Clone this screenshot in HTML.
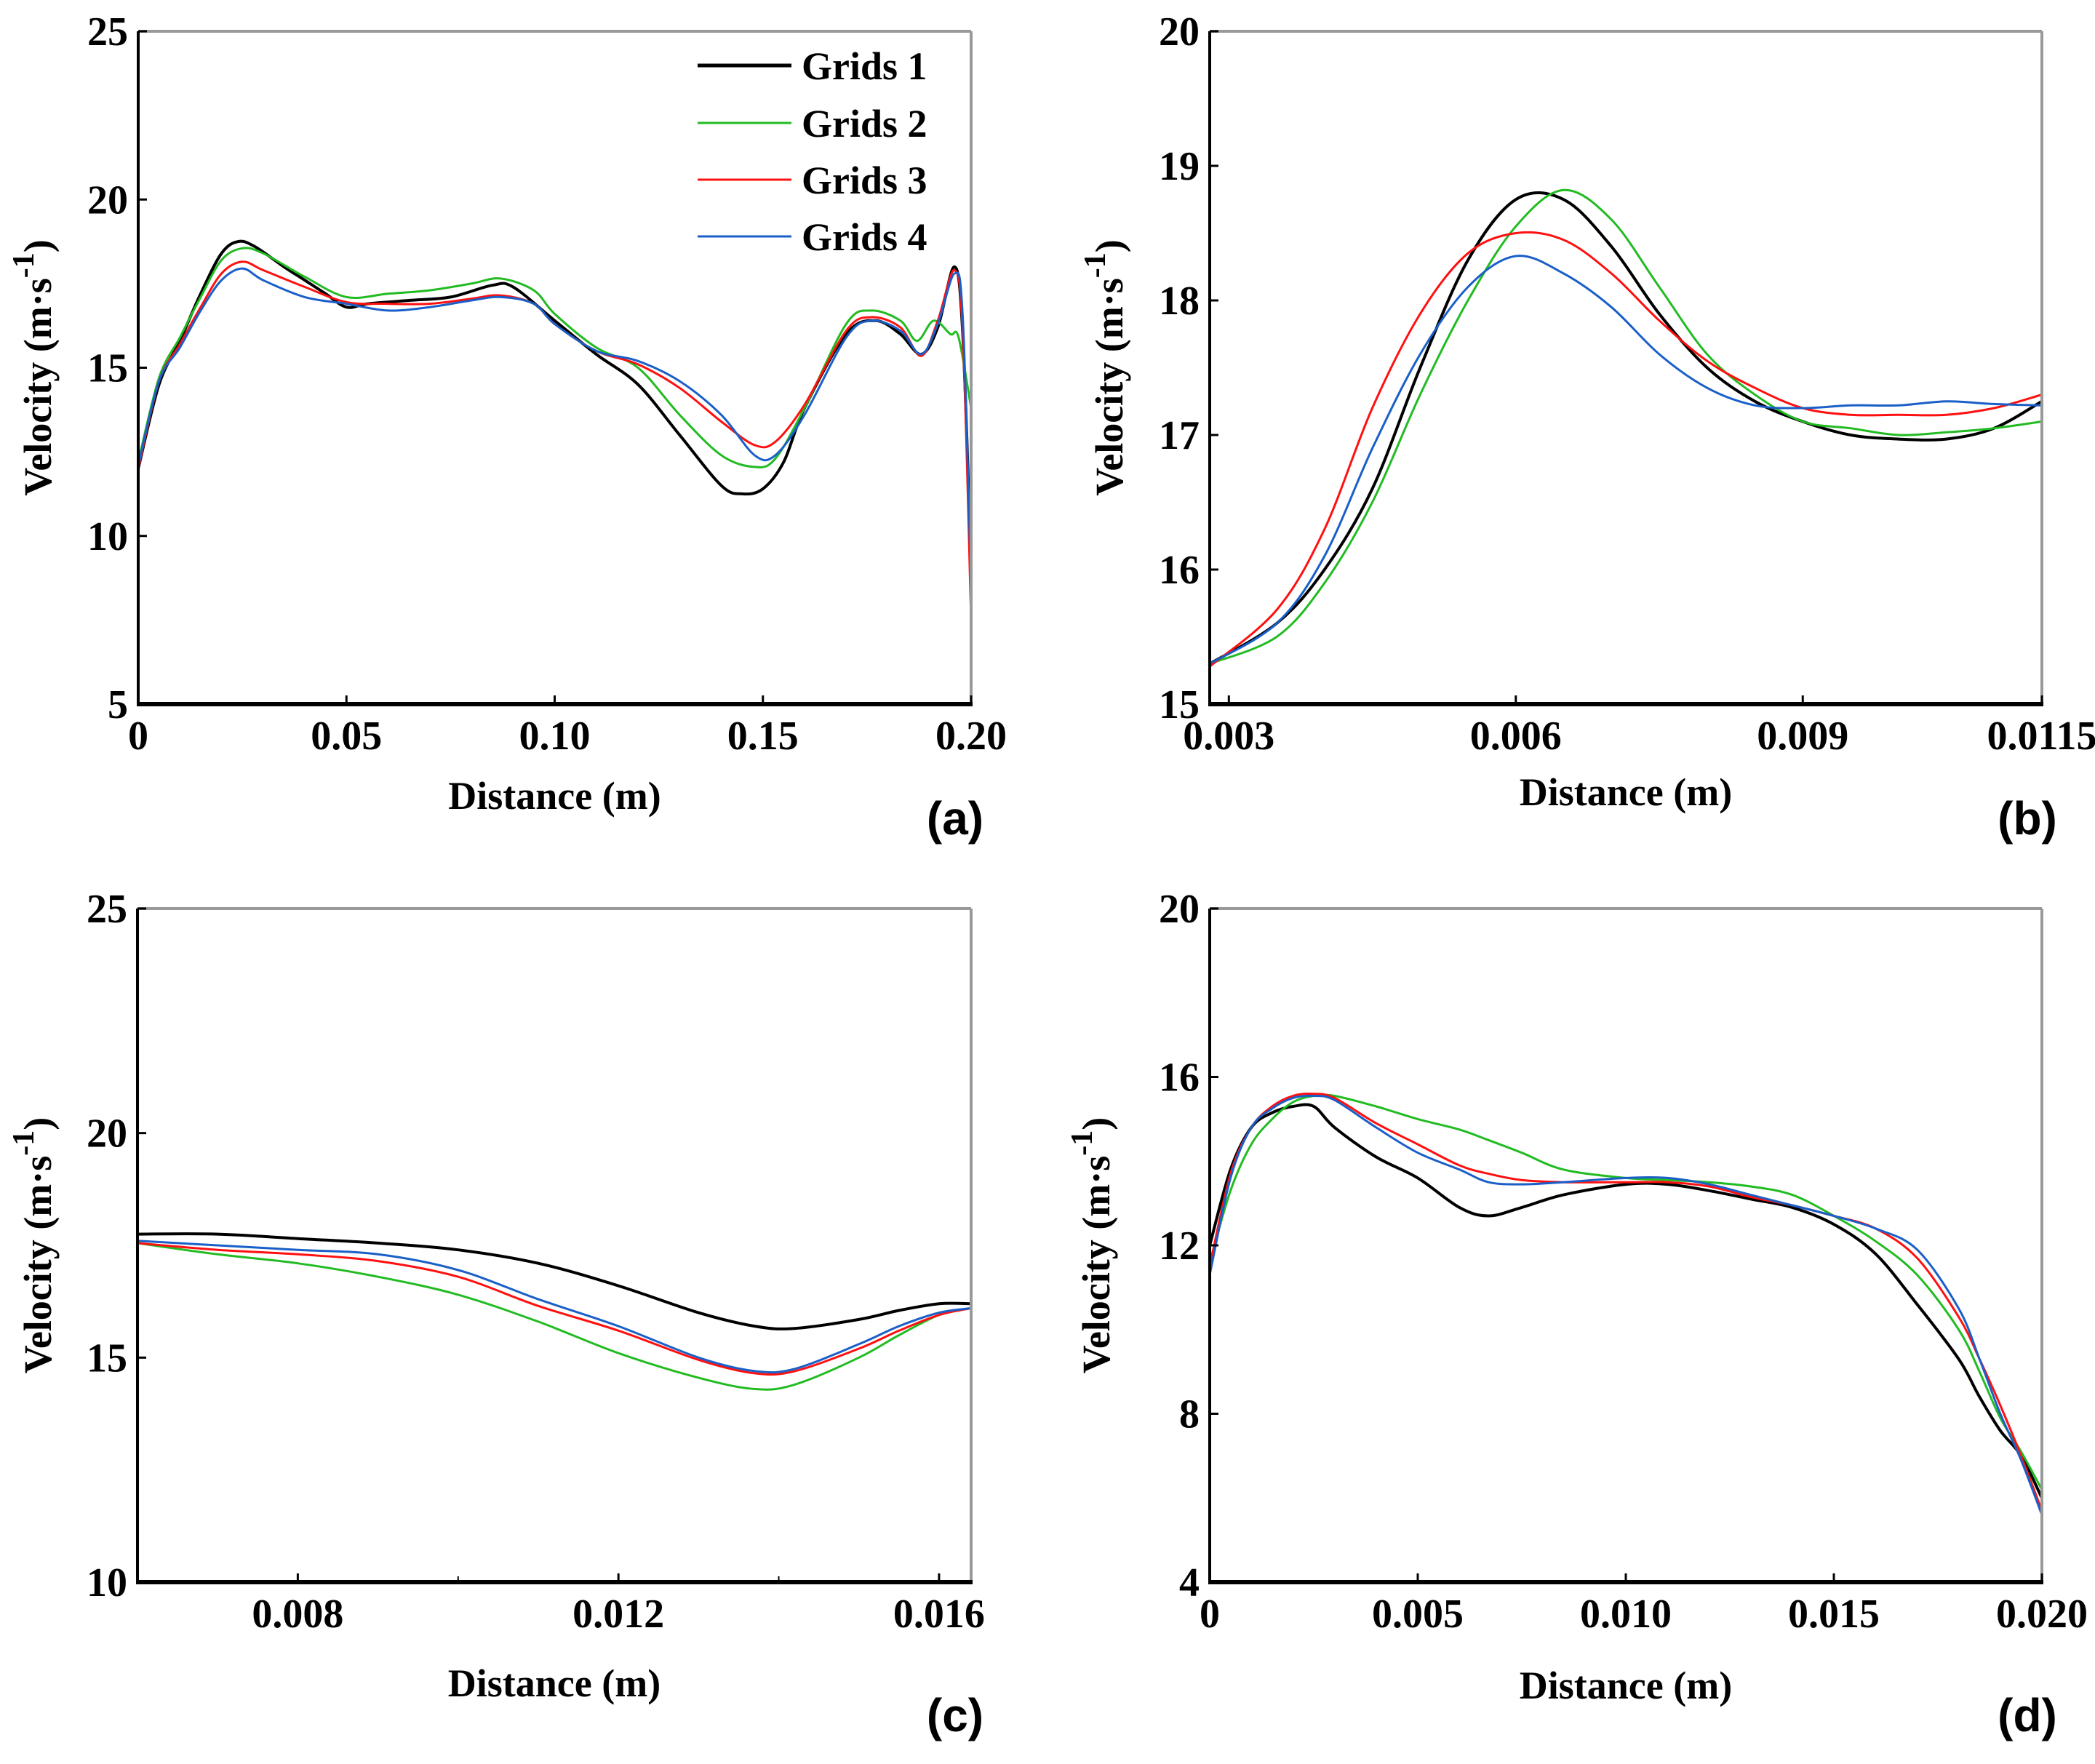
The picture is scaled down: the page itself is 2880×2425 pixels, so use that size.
<!DOCTYPE html>
<html><head><meta charset="utf-8">
<style>
html,body{margin:0;padding:0;background:#fff;}
svg{display:block;}
text{font-family:"Liberation Serif",serif;font-weight:bold;fill:#000;}
.pl{font-family:"Liberation Sans",sans-serif;font-weight:bold;}
</style></head>
<body>
<svg id="fig" width="2880" height="2425" viewBox="0 0 2880 2425" xmlns="http://www.w3.org/2000/svg"></svg>
<script>
const seriesNames=["Grids 1","Grids 2","Grids 3","Grids 4"];
const seriesColors=["#000000","#22bb22","#ff1010","#1a5fc8"];

// Panel a data
const aX1=[0,0.005,0.01,0.015,0.02,0.024,0.028,0.035,0.04,0.045,0.05,0.055,0.065,0.075,0.085,0.09,0.1,0.11,0.12,0.13,0.14,0.145,0.15,0.155,0.16,0.17,0.177,0.183,0.188,0.192,0.196,0.198,0.2];
const aY1=[12.0,14.5,15.8,17.2,18.4,18.75,18.6,18.0,17.6,17.2,16.8,16.9,17.0,17.1,17.45,17.4,16.4,15.4,14.5,13.0,11.5,11.25,11.4,12.2,13.8,16.0,16.4,16.0,15.4,16.2,18.0,16.0,9.0];
const aX2=[0,0.005,0.01,0.015,0.02,0.025,0.03,0.04,0.05,0.06,0.07,0.08,0.087,0.095,0.1,0.11,0.12,0.13,0.14,0.148,0.153,0.16,0.17,0.176,0.183,0.187,0.191,0.195,0.197,0.2];
const aY2=[12.2,14.7,15.9,17.1,18.2,18.55,18.4,17.7,17.1,17.2,17.3,17.5,17.65,17.3,16.6,15.6,15.0,13.6,12.4,12.05,12.3,13.8,16.3,16.7,16.4,15.8,16.4,16.0,15.9,13.8];
const aX3=[0,0.005,0.01,0.015,0.02,0.025,0.03,0.04,0.05,0.06,0.07,0.08,0.087,0.095,0.1,0.11,0.12,0.13,0.14,0.148,0.153,0.16,0.17,0.176,0.183,0.188,0.192,0.196,0.198,0.2];
const aY3=[12.0,14.6,15.7,16.8,17.8,18.15,17.9,17.4,16.95,16.9,16.9,17.05,17.15,16.9,16.3,15.5,15.1,14.4,13.4,12.7,12.8,13.9,16.1,16.5,16.2,15.35,16.4,17.9,16.0,7.5];
const aX4=[0,0.005,0.01,0.015,0.02,0.025,0.03,0.04,0.05,0.06,0.07,0.08,0.087,0.095,0.1,0.11,0.12,0.13,0.14,0.148,0.153,0.16,0.17,0.176,0.183,0.188,0.192,0.196,0.198,0.2];
const aY4=[12.1,14.6,15.6,16.7,17.6,17.95,17.6,17.1,16.9,16.7,16.8,17.0,17.1,16.9,16.3,15.5,15.2,14.6,13.6,12.4,12.4,13.6,15.9,16.4,16.1,15.4,16.3,17.8,16.5,8.5];

// Panel b data
const bX=[0.0028,0.0035,0.004,0.0045,0.005,0.0055,0.006,0.0065,0.007,0.0075,0.008,0.0085,0.009,0.0095,0.010,0.0105,0.011,0.0115];
const bY1=[15.3,15.6,16.0,16.6,17.5,18.3,18.75,18.75,18.4,17.9,17.5,17.25,17.1,17.0,16.97,16.97,17.05,17.25];
const bY2=[15.3,15.5,15.9,16.5,17.3,18.0,18.55,18.82,18.6,18.1,17.6,17.3,17.1,17.05,17.0,17.02,17.05,17.1];
const bY3=[15.28,15.7,16.3,17.2,17.9,18.35,18.5,18.45,18.2,17.85,17.55,17.35,17.2,17.15,17.15,17.15,17.2,17.3];
const bY4=[15.3,15.6,16.1,16.9,17.6,18.1,18.33,18.2,17.95,17.6,17.35,17.22,17.2,17.22,17.22,17.25,17.23,17.22];

// Panel c data
const cX=[0.006,0.007,0.008,0.009,0.010,0.011,0.012,0.013,0.0137,0.0142,0.015,0.0155,0.016,0.0164];
const cY1=[17.75,17.75,17.65,17.55,17.4,17.1,16.6,16.0,15.7,15.65,15.85,16.05,16.2,16.2];
const cY2=[17.55,17.3,17.1,16.8,16.4,15.8,15.1,14.55,14.3,14.4,15.0,15.5,15.95,16.1];
const cY3=[17.55,17.4,17.3,17.15,16.8,16.15,15.6,14.95,14.65,14.7,15.2,15.6,15.95,16.1];
const cY4=[17.6,17.5,17.4,17.3,16.95,16.3,15.7,15.0,14.7,14.75,15.3,15.7,16.0,16.1];

// Panel d data
const dX=[0,0.0005,0.001,0.0015,0.002,0.0025,0.003,0.004,0.005,0.006,0.0067,0.0075,0.0085,0.010,0.011,0.012,0.013,0.014,0.015,0.016,0.017,0.018,0.0185,0.019,0.0195,0.020];
const dY1=[12.0,13.8,14.8,15.15,15.3,15.3,14.8,14.1,13.6,12.9,12.7,12.9,13.2,13.45,13.45,13.3,13.1,12.9,12.5,11.8,10.6,9.3,8.4,7.6,7.0,6.0];
const dY2=[11.6,13.3,14.4,15.0,15.4,15.55,15.55,15.3,15.0,14.75,14.5,14.2,13.8,13.6,13.55,13.5,13.4,13.2,12.7,12.1,11.3,10.0,9.0,7.9,7.1,6.2];
const dY3=[11.5,13.7,14.8,15.3,15.55,15.6,15.5,14.9,14.4,13.9,13.7,13.55,13.5,13.5,13.5,13.4,13.15,12.95,12.7,12.4,11.7,10.3,9.3,8.2,7.0,5.7];
const dY4=[11.3,13.6,14.8,15.25,15.5,15.55,15.45,14.8,14.2,13.8,13.5,13.45,13.5,13.6,13.6,13.45,13.2,12.95,12.7,12.4,11.9,10.5,9.3,8.0,6.9,5.6];

// tick labels
const aXTicks=[0,0.05,0.10,0.15,0.20], aXLabels=["0","0.05","0.10","0.15","0.20"];
const aYTicks=[5,10,15,20,25];
const bXTicks=[0.003,0.006,0.009,0.0115], bXLabels=["0.003","0.006","0.009","0.0115"];
const bYTicks=[15,16,17,18,19,20];
const cXTicks=[0.008,0.012,0.016], cXLabels=["0.008","0.012","0.016"];
const cYTicks=[10,15,20,25];
const dXTicks=[0,0.005,0.010,0.015,0.020], dXLabels=["0","0.005","0.010","0.015","0.020"];
const dYTicks=[4,8,12,16,20];

const NS="http://www.w3.org/2000/svg";
const svg=document.getElementById("fig");
function mk(tag,attrs,parent){const e=document.createElementNS(NS,tag);for(const k in attrs)e.setAttribute(k,attrs[k]);(parent||svg).appendChild(e);return e;}

function smoothPath(P){
  let d="M"+P[0][0].toFixed(1)+","+P[0][1].toFixed(1);
  for(let i=0;i<P.length-1;i++){
    const p0=P[i-1]||P[i],p1=P[i],p2=P[i+1],p3=P[i+2]||P[i+1];
    const c1x=p1[0]+(p2[0]-p0[0])/6,c1y=p1[1]+(p2[1]-p0[1])/6;
    const c2x=p2[0]-(p3[0]-p1[0])/6,c2y=p2[1]-(p3[1]-p1[1])/6;
    d+=" C"+c1x.toFixed(1)+","+c1y.toFixed(1)+" "+c2x.toFixed(1)+","+c2y.toFixed(1)+" "+p2[0].toFixed(1)+","+p2[1].toFixed(1);
  }
  return d;
}

function panel(cfg){
  const g=mk("g",{});
  
  
  const L=cfg.box[0],T=cfg.box[1],R=cfg.box[2],B=cfg.box[3];
  const sx=v=>L+(v-cfg.xd[0])/(cfg.xd[1]-cfg.xd[0])*(R-L);
  const sy=v=>B-(v-cfg.yd[0])/(cfg.yd[1]-cfg.yd[0])*(B-T);
  cfg.series.forEach((s,i)=>{
    const P=s.x.map((xv,j)=>[sx(xv),sy(s.y[j])]);
    const p=mk("path",{d:smoothPath(P),fill:"none",stroke:seriesColors[i],"stroke-width":i===0?4:3,"stroke-linejoin":"round"},g);
    
    
  });
  const top=mk("line",{x1:L,y1:T,x2:R,y2:T,stroke:"#999","stroke-width":4},g);
  
  
  const rt=mk("line",{x1:R,y1:T,x2:R,y2:B,stroke:"#999","stroke-width":4},g);
  
  
  const xa=mk("line",{x1:L-2,y1:B,x2:R+2,y2:B,stroke:"#000","stroke-width":6},g);
  
  
  const ya=mk("line",{x1:L,y1:T,x2:L,y2:B,stroke:"#000","stroke-width":4},g);
  
  
  cfg.xt.forEach((v,i)=>{
    let x=sx(v); if(i===cfg.xt.length-1 && cfg.lastAtEnd) x=R;
    mk("line",{x1:x,y1:B,x2:x,y2:B-12,stroke:"#000","stroke-width":3},g);
    const t=mk("text",{x:x,y:B+62,"font-size":56,"text-anchor":"middle"},g);
    t.textContent=cfg.xl[i];
    
    
  });
  (cfg.xminor||[]).forEach(v=>{mk("line",{x1:sx(v),y1:B,x2:sx(v),y2:B-8,stroke:"#000","stroke-width":2},g);});
  cfg.yt.forEach(v=>{
    const y=sy(v);
    mk("line",{x1:L,y1:y,x2:L+12,y2:y,stroke:"#000","stroke-width":3},g);
    const t=mk("text",{x:L-14,y:y+19,"font-size":56,"text-anchor":"end"},g);
    t.textContent=String(v);
    
    
  });
  const xt=mk("text",{x:(L+R)/2,y:cfg.xty,"font-size":54,"text-anchor":"middle"},g);
  xt.textContent="Distance (m)";
  
  
  const cy=(T+B)/2;
  const yt=mk("text",{x:0,y:0,"font-size":54,"text-anchor":"middle",transform:"translate("+cfg.ytx+","+cy+") rotate(-90)"},g);
  
  
  yt.appendChild(document.createTextNode("Velocity (m·s"));
  const sup=mk("tspan",{dy:-24,"font-size":42},yt); sup.textContent="-1";
  const cl=mk("tspan",{dy:24},yt); cl.textContent=")";
  const pl=mk("text",{x:cfg.lab[0],y:cfg.lab[1],"font-size":64,"text-anchor":"middle","class":"pl"},g);
  pl.textContent=cfg.labText;
  
  
  return g;
}

panel({name:"panel-a",box:[190,43,1335,968],xd:[0,0.2],yd:[5,25],xt:aXTicks,xl:aXLabels,yt:aYTicks,xty:1112,ytx:70,lab:[1313,1147],labText:"(a)",
  series:[{x:aX1,y:aY1},{x:aX2,y:aY2},{x:aX3,y:aY3},{x:aX4,y:aY4}]});
panel({name:"panel-b",box:[1663,43,2807,968],xd:[0.0028,0.0115],yd:[15,20],xt:bXTicks,xl:bXLabels,yt:bYTicks,xty:1107,ytx:1543,lab:[2787,1147],labText:"(b)",lastAtEnd:true,
  series:[{x:bX,y:bY1},{x:bX,y:bY2},{x:bX,y:bY3},{x:bX,y:bY4}]});
panel({name:"panel-c",box:[189,1249,1335,2175],xd:[0.006,0.0164],yd:[10,25],xt:cXTicks,xl:cXLabels,yt:cYTicks,xminor:[0.010,0.014],xty:2332,ytx:70,lab:[1313,2380],labText:"(c)",
  series:[{x:cX,y:cY1},{x:cX,y:cY2},{x:cX,y:cY3},{x:cX,y:cY4}]});
panel({name:"panel-d",box:[1663,1249,2807,2175],xd:[0,0.02],yd:[4,20],xt:dXTicks,xl:dXLabels,yt:dYTicks,xty:2335,ytx:1525,lab:[2787,2380],labText:"(d)",
  series:[{x:dX,y:dY1},{x:dX,y:dY2},{x:dX,y:dY3},{x:dX,y:dY4}]});

const lg=mk("g",{});


const legY=[90,169,247,325];
seriesNames.forEach((n,i)=>{
  const ln=mk("line",{x1:959,y1:legY[i],x2:1088,y2:legY[i],stroke:seriesColors[i],"stroke-width":i===0?5:3},lg);
  
  
  const t=mk("text",{x:1102,y:legY[i]+19,"font-size":54},lg);
  t.textContent=n;
  
  
});
</script>
</body></html>
